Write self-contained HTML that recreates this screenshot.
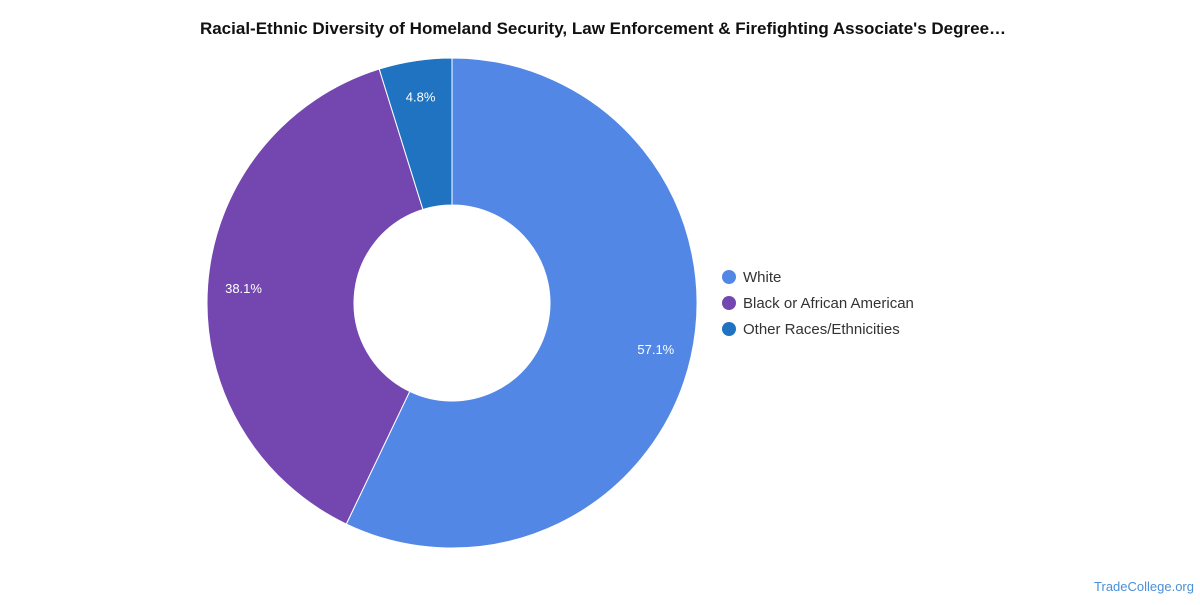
<!DOCTYPE html>
<html><head><meta charset="utf-8"><style>
body{margin:0;background:#fff;font-family:"Liberation Sans",Arial,sans-serif;}
</style></head><body>
<svg width="1200" height="600" xmlns="http://www.w3.org/2000/svg">
<text x="603" y="34" text-anchor="middle" font-size="17" font-weight="bold" fill="#111">Racial-Ethnic Diversity of Homeland Security, Law Enforcement &amp; Firefighting Associate's Degree…</text>
<g id="slices"></g>
<g id="legend"></g>
<text x="1194" y="591" text-anchor="end" font-size="13" fill="#4a8fd8">TradeCollege.org</text>
</svg>
<script>
const categories = ["White", "Black or African American", "Other Races/Ethnicities"];
const values = [57.1, 38.1, 4.8];
const colors = ["#5387e5", "#7447b0", "#1f73c0"];
const cx = 452, cy = 303, R = 245, r = 98, LR = 209;
const NS = "http://www.w3.org/2000/svg";
const g = document.getElementById("slices");
const total = values.reduce((a, b) => a + b, 0);
function pt(rad, a){return [cx + rad*Math.sin(a), cy - rad*Math.cos(a)];}
let start = 0;
values.forEach((v, i) => {
  const end = start + v/total*2*Math.PI;
  const large = end - start > Math.PI ? 1 : 0;
  const [x1,y1] = pt(R,start), [x2,y2] = pt(R,end), [x3,y3] = pt(r,end), [x4,y4] = pt(r,start);
  const p = document.createElementNS(NS, "path");
  p.setAttribute("d", `M${x1},${y1} A${R},${R} 0 ${large} 1 ${x2},${y2} L${x3},${y3} A${r},${r} 0 ${large} 0 ${x4},${y4} Z`);
  p.setAttribute("fill", colors[i]);
  p.setAttribute("stroke", "#fff");
  p.setAttribute("stroke-width", "1");
  
  
  g.appendChild(p);
  const mid = (start + end)/2;
  const [lx, ly] = pt(LR, mid);
  const t = document.createElementNS(NS, "text");
  t.setAttribute("x", lx); t.setAttribute("y", ly + 5);
  t.setAttribute("text-anchor", "middle");
  t.setAttribute("font-size", "13"); t.setAttribute("fill", "#fff");
  t.textContent = v.toFixed(1) + "%";
  
  
  g.appendChild(t);
  start = end;
});
const lg = document.getElementById("legend");
categories.forEach((c, i) => {
  const y = 277 + i*26;
  const circ = document.createElementNS(NS, "circle");
  circ.setAttribute("cx", 729); circ.setAttribute("cy", y); circ.setAttribute("r", 7);
  circ.setAttribute("fill", colors[i]);
  
  
  lg.appendChild(circ);
  const t = document.createElementNS(NS, "text");
  t.setAttribute("x", 743); t.setAttribute("y", y + 5);
  t.setAttribute("font-size", "15"); t.setAttribute("fill", "#333");
  t.textContent = c;
  
  
  lg.appendChild(t);
});
</script>
</body></html>
